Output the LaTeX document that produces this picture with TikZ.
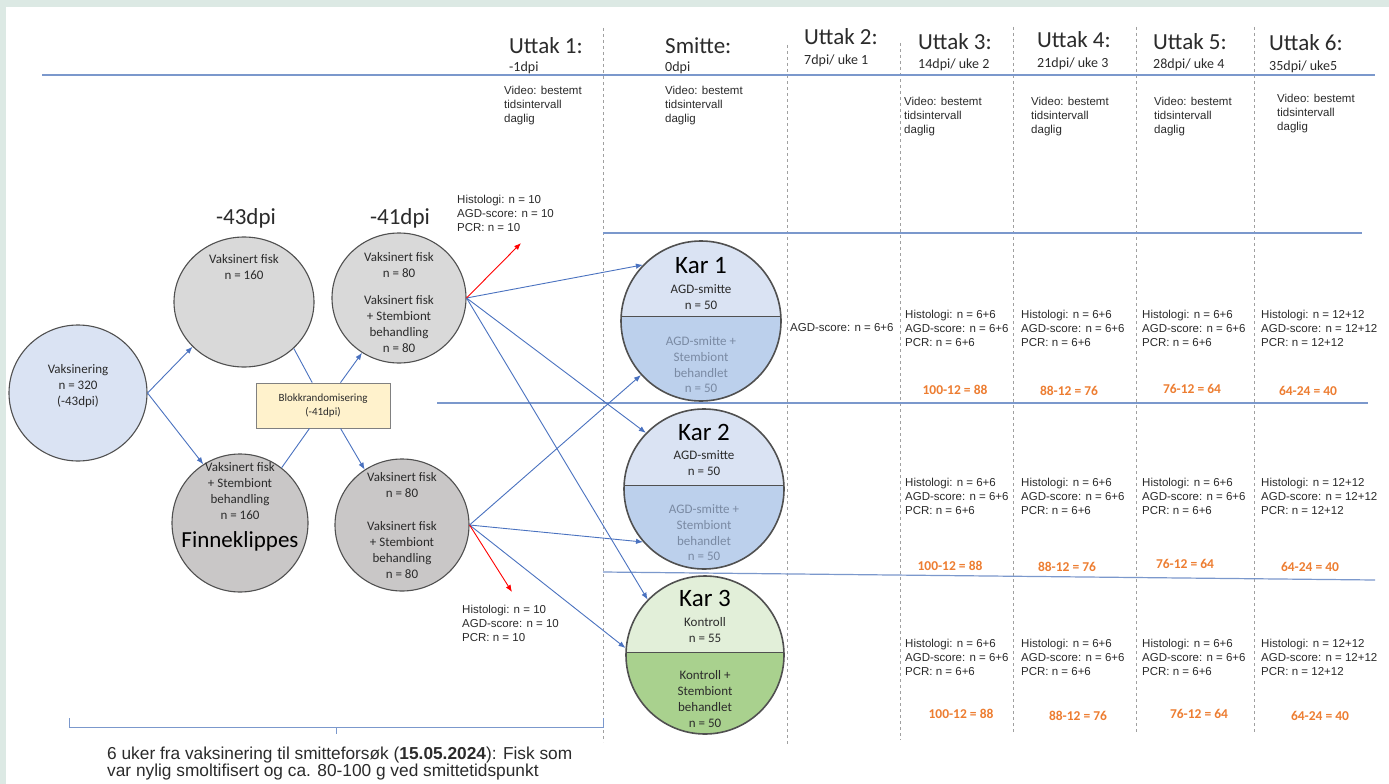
\documentclass[tikz,border=0pt]{standalone}
\usepackage{fontspec}
\setmainfont{Carlito}
\newfontfamily\arial{Liberation Sans}
\usetikzlibrary{arrows.meta,shapes.geometric,calc}
\definecolor{bgmint}{HTML}{DCE9E4}
\definecolor{cblue}{HTML}{4A72C0}
\definecolor{lineblue}{HTML}{7B98CC}
\definecolor{dashgrey}{HTML}{A0A0A0}
\definecolor{cborder}{HTML}{505050}
\definecolor{vacfill}{HTML}{DAE3F3}
\definecolor{greyA}{HTML}{D9D9D9}
\definecolor{greyB}{HTML}{C9C7C7}
\definecolor{boxfill}{HTML}{FFF2CC}
\definecolor{boxborder}{HTML}{808080}
\definecolor{kblueA}{HTML}{DAE3F3}
\definecolor{kblueB}{HTML}{BCD0EC}
\definecolor{kgreenA}{HTML}{E2EFD9}
\definecolor{kgreenB}{HTML}{A9D18E}
\definecolor{corange}{HTML}{ED7D31}
\definecolor{ctxt}{HTML}{2B2B2B}
\definecolor{klow}{HTML}{7A8AA3}
\begin{document}
\begin{tikzpicture}[x=1pt,y=-1pt,
  conn/.style={draw=cblue, line width=0.9pt, -{Latex[length=7pt,width=5.5pt]}},
  plainconn/.style={draw=cblue, line width=0.9pt},
  redarr/.style={draw=red, line width=0.9pt, -{Latex[length=7pt,width=5.5pt]}},
  grp/.style={ellipse, draw=cborder, line width=1.1pt, inner sep=0pt},
  ctext/.style={font=\fontsize{13}{15.7}\selectfont, align=center, text=ctxt, inner sep=0pt},
  smalltxt/.style={font=\arial\fontsize{11.5}{14}\selectfont, align=left, text=ctxt, inner sep=0pt, anchor=west},
  orangetxt/.style={font=\bfseries\fontsize{13.5}{16}\selectfont, text=corange, inner sep=0pt},
  hdr/.style={font=\fontsize{23}{26}\selectfont, anchor=west, inner sep=0pt, text=ctxt},
  subhdr/.style={font=\fontsize{14}{16}\selectfont, anchor=west, inner sep=0pt, text=ctxt},
  hline/.style={draw=lineblue, line width=1.2pt},
  vdash/.style={draw=dashgrey, dashed, line width=0.8pt},
  kartitle/.style={font=\fontsize{25}{28}\selectfont, inner sep=0pt, text=black},
  karcirc/.style={circle, draw=cborder, line width=1.6pt, minimum size=160pt, inner sep=0pt}
]
\useasboundingbox (0,0) rectangle (1389,784);
\fill[bgmint] (0,0) rectangle (1389,784);
\fill[white] (6,7) rectangle (1389,784);

% dashed column separators
\draw[vdash] (603,28) -- (603,742);
\draw[vdash] (787,45) -- (787,745);
\draw[vdash] (900,43) -- (900,740);
\draw[vdash] (1013,27) -- (1013,732);
\draw[vdash] (1136,27) -- (1136,732);
\draw[vdash] (1254,27) -- (1254,732);

% horizontal lines
\draw[hline] (42,75) -- (1375,75);
\draw[hline] (603,233) -- (1362,233);
\draw[hline] (437,403) -- (1368,403);
\draw[hline] (603,572) -- (1375,580);

% headers
\node[hdr] (u1) at (509,46) {Uttak 1:};
\node[subhdr] (u1s) at (509,68) {-1dpi};
\node[hdr] (sm) at (665,46) {Smitte:};
\node[subhdr] (sms) at (665,68) {0dpi};
\node[hdr] (u2) at (804,37) {Uttak 2:};
\node[subhdr] (u2s) at (804,61) {7dpi/ uke 1};
\node[hdr] (u3) at (918,42) {Uttak 3:};
\node[subhdr] (u3s) at (918,65) {14dpi/ uke 2};
\node[hdr] (u4) at (1037,40) {Uttak 4:};
\node[subhdr] (u4s) at (1037,64) {21dpi/ uke 3};
\node[hdr] (u5) at (1153,42) {Uttak 5:};
\node[subhdr] (u5s) at (1153,65) {28dpi/ uke 4};
\node[hdr] (u6) at (1269,43) {Uttak 6:};
\node[subhdr] (u6s) at (1269,67) {35dpi/ uke5};

% video notes
\node[smalltxt] (v1) at (504,106) {Video: bestemt\\tidsintervall\\daglig};
\node[smalltxt] (v2) at (665,106) {Video: bestemt\\tidsintervall\\daglig};
\node[smalltxt] (v3) at (904,117) {Video: bestemt\\tidsintervall\\daglig};
\node[smalltxt] (v4) at (1031,117) {Video: bestemt\\tidsintervall\\daglig};
\node[smalltxt] (v5) at (1154,117) {Video: bestemt\\tidsintervall\\daglig};
\node[smalltxt] (v6) at (1277,114) {Video: bestemt\\tidsintervall\\daglig};

% dpi labels
\node[font=\fontsize{23}{26}\selectfont, text=ctxt, inner sep=0pt] (d43) at (246,218) {-43dpi};
\node[font=\fontsize{23}{26}\selectfont, text=ctxt, inner sep=0pt] (d41) at (400,218) {-41dpi};

% left circles
\node[grp, fill=vacfill, minimum width=138pt, minimum height=136pt] (vac) at (78,393) {};
\node[ctext] (vact) at (78,386) {Vaksinering\\n = 320\\(-43dpi)};

\node[grp, fill=greyA, minimum width=140pt, minimum height=130pt] (g1) at (244,302) {};
\node[ctext] (g1t) at (244,267) {Vaksinert fisk\\n = 160};

\node[grp, fill=greyA, minimum width=134pt, minimum height=130pt] (g2) at (399,298) {};
\node[ctext] (g2a) at (399,265) {Vaksinert fisk\\n = 80};
\node[ctext] (g2b) at (399,324) {Vaksinert fisk\\+ Stembiont\\behandling\\n = 80};

\node[grp, fill=greyB, minimum width=136pt, minimum height=138pt] (g3) at (240,523) {};
\node[ctext] (g3t) at (240,491) {Vaksinert fisk\\+ Stembiont\\behandling\\n = 160};
\node[font=\fontsize{23}{26}\selectfont, text=black, inner sep=0pt] (g3f) at (240,541) {Finneklippes};

\node[grp, fill=greyB, minimum width=134pt, minimum height=132pt] (g4) at (402,525) {};
\node[ctext] (g4a) at (402,485) {Vaksinert fisk\\n = 80};
\node[ctext] (g4b) at (402,550) {Vaksinert fisk\\+ Stembiont\\behandling\\n = 80};

\node[draw=boxborder, fill=boxfill, line width=0.8pt, minimum width=134pt, minimum height=45pt, font=\fontsize{11}{14}\selectfont, align=center, text=ctxt, inner sep=0pt] (box) at (323,405.5) {Blokkrandomisering\\(-41dpi)};

% left connectors
\draw[conn] (vac.east) -- (g1.221);
\draw[conn] (vac.east) -- (g3.122);
\draw[plainconn] (g1.-43) -- ($(box.north west)!0.42!(box.north east)$);
\draw[conn] ($(box.north west)!0.63!(box.north east)$) -- (g2.236);
\draw[plainconn] ($(box.south west)!0.40!(box.south east)$) -- (g3.53);
\draw[conn] ($(box.south west)!0.63!(box.south east)$) -- (g4.124);

% Kar circles
\begin{scope}
\clip (701,321) circle (80pt);
\fill[kblueA] (600,230) rectangle (800,316);
\fill[kblueB] (600,316) rectangle (800,410);
\draw[draw=cborder, line width=1pt] (600,316) -- (800,316);
\end{scope}
\node[karcirc] (k1) at (701,321) {};
\node[kartitle] (k1t) at (701,266) {Kar 1};
\node[ctext] (k1a) at (701,297) {AGD-smitte\\n = 50};
\node[ctext, text=klow] (k1b) at (701,365) {AGD-smitte +\\Stembiont\\behandlet\\n = 50};

\begin{scope}
\clip (704,489) circle (80pt);
\fill[kblueA] (600,400) rectangle (800,485);
\fill[kblueB] (600,485) rectangle (800,580);
\draw[draw=cborder, line width=1pt] (600,485) -- (800,485);
\end{scope}
\node[karcirc] (k2) at (704,489) {};
\node[kartitle] (k2t) at (704,432) {Kar 2};
\node[ctext] (k2a) at (704,463) {AGD-smitte\\n = 50};
\node[ctext, text=klow] (k2b) at (704,533) {AGD-smitte +\\Stembiont\\behandlet\\n = 50};

\begin{scope}
\clip (705,655) circle (79pt);
\fill[kgreenA] (600,570) rectangle (800,652);
\fill[kgreenB] (600,652) rectangle (800,740);
\draw[draw=cborder, line width=1pt] (600,652) -- (800,652);
\end{scope}
\node[karcirc, minimum size=158pt] (k3) at (705,655) {};
\node[kartitle] (k3t) at (705,598) {Kar 3};
\node[ctext] (k3a) at (705,630) {Kontroll\\n = 55};
\node[ctext] (k3b) at (705,699) {Kontroll +\\Stembiont\\behandlet\\n = 50};

% connectors to Kar
\draw[conn] (g2.east) -- (k1.136);
\draw[conn] (g2.east) -- (k2.136);
\draw[conn] (g2.east) -- (k3.136);
\draw[conn] (g4.east) -- (k1.222);
\draw[conn] (g4.east) -- (k2.221);
\draw[conn] (g4.east) -- (k3.175);

% red sampling arrows
\coordinate (rt) at (521,243);
\coordinate (rb) at (512,592);
\draw[redarr] (g2.east) -- (rt);
\draw[redarr] (g4.east) -- (rb);
\node[smalltxt] (h1) at (457,213) {Histologi: n = 10\\AGD-score: n = 10\\PCR: n = 10};
\node[smalltxt] (h2) at (462,623) {Histologi: n = 10\\AGD-score: n = 10\\PCR: n = 10};

% sample rows
\node[smalltxt] (r1c2) at (790,328) {AGD-score: n = 6+6};
\foreach \r/\y in {1/328,2/496,3/657}{
  \node[smalltxt] (r\r c3) at (905,\y) {Histologi: n = 6+6\\AGD-score: n = 6+6\\PCR: n = 6+6};
  \node[smalltxt] (r\r c4) at (1021,\y) {Histologi: n = 6+6\\AGD-score: n = 6+6\\PCR: n = 6+6};
  \node[smalltxt] (r\r c5) at (1142,\y) {Histologi: n = 6+6\\AGD-score: n = 6+6\\PCR: n = 6+6};
  \node[smalltxt] (r\r c6) at (1261,\y) {Histologi: n = 12+12\\AGD-score: n = 12+12\\PCR: n = 12+12};
}

% orange counts
\node[orangetxt] (o11) at (955,390) {100-12 = 88};
\node[orangetxt] (o12) at (1069,391) {88-12 = 76};
\node[orangetxt] (o13) at (1192,389) {76-12 = 64};
\node[orangetxt] (o14) at (1308,391) {64-24 = 40};
\node[orangetxt] (o21) at (950,566) {100-12 = 88};
\node[orangetxt] (o22) at (1067,567) {88-12 = 76};
\node[orangetxt] (o23) at (1185,564) {76-12 = 64};
\node[orangetxt] (o24) at (1310,567) {64-24 = 40};
\node[orangetxt] (o31) at (961,714) {100-12 = 88};
\node[orangetxt] (o32) at (1078,716) {88-12 = 76};
\node[orangetxt] (o33) at (1199,714) {76-12 = 64};
\node[orangetxt] (o34) at (1320,716) {64-24 = 40};

% bracket and caption
\draw[draw=lineblue, line width=1pt] (69,718) -- (69,727) -- (603,727) -- (603,718);
\draw[draw=lineblue, line width=1pt] (336,727) -- (336,734);
\node[font=\arial\fontsize{17.3}{17}\selectfont, align=left, anchor=west, text=ctxt, inner sep=0pt] (cap) at (107,764) {6 uker fra vaksinering til smitteforsøk (\textbf{15.05.2024}): Fisk som\\var nylig smoltifisert og ca. 80-100 g ved smittetidspunkt};
\end{tikzpicture}
\end{document}
